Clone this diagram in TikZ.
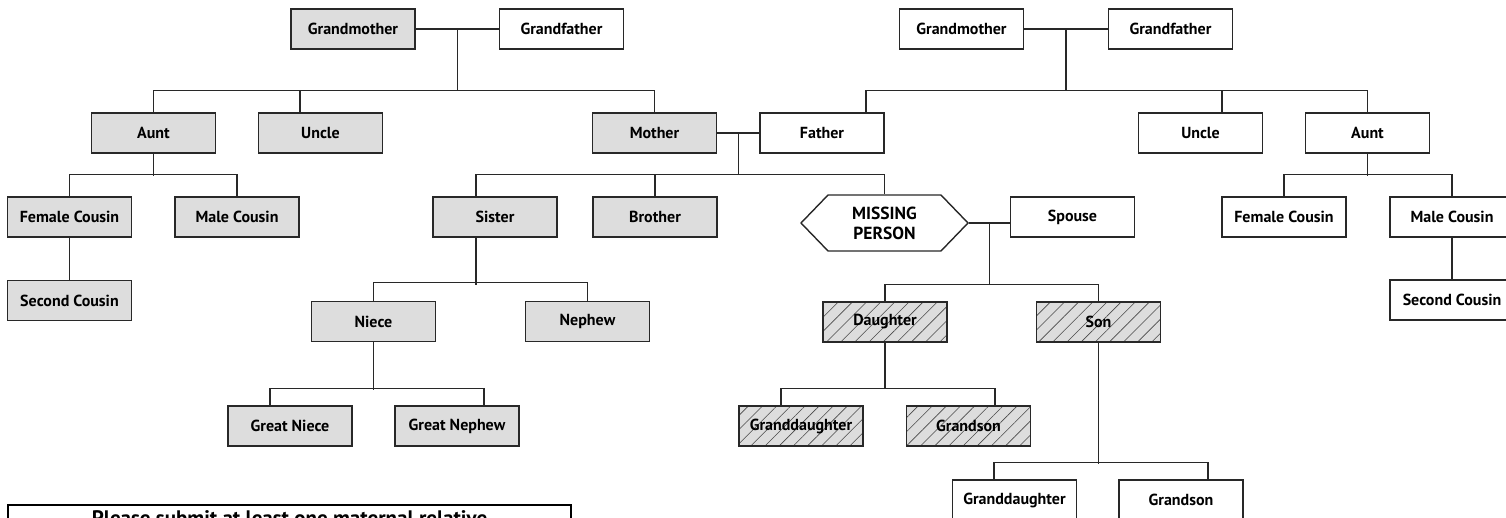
\documentclass[tikz,border=0pt]{standalone}
\usepackage{fontspec}
\setmainfont{PT Sans}
\usetikzlibrary{calc,shapes.symbols,patterns.meta}

\definecolor{boxgray}{RGB}{221,221,221}
\definecolor{linegray}{RGB}{40,40,40}

\tikzset{
  person/.style={draw=linegray, line width=1.4pt, minimum width=124pt, minimum height=40pt,
    inner sep=0pt, font=\fontsize{16}{18}\selectfont\bfseries},
  maternal/.style={person, fill=boxgray},
  offspring/.style={person, preaction={fill=boxgray},
    pattern={Lines[angle=45,distance=10pt,line width=0.6pt]}, pattern color=linegray!85},
  missing/.style={person, shape=signal, signal to=west and east, signal pointer angle=92,
    minimum width=167pt, minimum height=56pt, align=center,
    font=\fontsize{17.5}{20}\selectfont\bfseries},
  note/.style={draw=black, line width=2.2pt, minimum width=563pt, minimum height=26pt,
    anchor=north, font=\fontsize{21}{23}\selectfont\bfseries},
  link/.style={draw=linegray, line width=1.4pt}
}

\begin{document}
\begin{tikzpicture}[x=1pt, y=-1pt]
\useasboundingbox (0,0) rectangle (1506,518);
\clip (0,0) rectangle (1506,518);

% Grandparents
\node[maternal] (gmM) at (353,29) {Grandmother};
\node[person] (gfM) at (561.5,29) {Grandfather};
\node[person] (gmP) at (961.5,29) {Grandmother};
\node[person] (gfP) at (1170.5,29) {Grandfather};

% Parents, aunts and uncles
\node[maternal] (auntM) at (153.5,133) {Aunt};
\node[maternal] (uncleM) at (320.5,133) {Uncle};
\node[maternal] (mother) at (654.5,133) {Mother};
\node[person] (father) at (822,133) {Father};
\node[person] (uncleP) at (1200.5,133) {Uncle};
\node[person] (auntP) at (1367.5,133) {Aunt};

% Own generation
\node[maternal] (fcousM) at (69.5,217) {Female Cousin};
\node[maternal] (mcousM) at (237,217) {Male Cousin};
\node[maternal] (sister) at (495,217) {Sister};
\node[maternal] (brother) at (655,217) {Brother};
\node[missing] (mp) at (884.5,223) {MISSING\\PERSON};
\node[person] (spouse) at (1072.5,217) {Spouse};
\node[person] (fcousP) at (1284,217) {Female Cousin};
\node[person] (mcousP) at (1452,217) {Male Cousin};

% Next generation
\node[maternal] (scousM) at (69.5,300.5) {Second Cousin};
\node[person] (scousP) at (1452,300) {Second Cousin};
\node[maternal] (niece) at (373.5,321.5) {Niece};
\node[maternal] (nephew) at (587.5,321.5) {Nephew};
\node[offspring] (daughter) at (885,322) {Daughter};
\node[offspring] (son) at (1098.5,322) {Son};

% Grandchildren
\node[maternal] (gniece) at (290,426) {Great Niece};
\node[maternal] (gnephew) at (457,426) {Great Nephew};
\node[offspring] (gdaughterA) at (801,426) {Granddaughter};
\node[offspring] (gsonA) at (968.5,426) {Grandson};
\node[person] (gdaughterB) at (1014.5,500) {Granddaughter};
\node[person] (gsonB) at (1181,500) {Grandson};

% Note
\node[note] (remark) at (289.5,504) {Please submit at least one maternal relative};

% Maternal grandparents
\coordinate (mGP) at ($(gmM.east)!.5!(gfM.west)$);
\draw[link] (gmM) -- (gfM);
\draw[link] (mGP) -- ++(0,62);
\draw[link] (auntM.north) -- ++(0,-22) -| (mother.north);
\draw[link] ([xshift=-20.5pt]uncleM.north) -- ++(0,-22);

% Paternal grandparents
\coordinate (pGP) at ($(gmP.east)!.5!(gfP.west)$);
\draw[link] (gmP) -- (gfP);
\draw[link] (pGP) -- ++(0,62);
\draw[link] ([xshift=44pt]father.north) -- ++(0,-22) -| (auntP.north);
\draw[link] ([xshift=21.5pt]uncleP.north) -- ++(0,-22);

% Parents
\coordinate (par) at ($(mother.east)!.5!(father.west)$);
\draw[link] (mother) -- (father);
\draw[link] (par) -- ++(0,42);
\draw[link] ([xshift=-19pt]sister.north) -- ++(0,-22) -| (mp.north);
\draw[link] (brother.north) -- ++(0,-22);

% Cousins
\draw[link] (auntM.south) -- ++(0,22);
\draw[link] (fcousM.north) -- ++(0,-22) -| (mcousM.north);
\draw[link] (fcousM) -- (scousM);
\draw[link] (auntP.south) -- ++(0,22);
\draw[link] (fcousP.north) -- ++(0,-22) -| (mcousP.north);
\draw[link] (mcousP) -- (scousP);

% Sister's line
\draw[link] ([xshift=-19pt]sister.south) -- ++(0,47);
\draw[link] (niece.north) -- ++(0,-18) -| (nephew.north);
\draw[link] (niece.south) -- ++(0,48);
\draw[link] ([xshift=-20pt]gniece.north) -- ++(0,-17) -| ([xshift=27pt]gnephew.north);

% Missing person's line
\coordinate (mps) at ($(mp.east)!.5!(mp.east -| spouse.west)$);
\draw[link] (mp.east) -- (mp.east -| spouse.west);
\draw[link] (mps) -- ++(0,62);
\draw[link] (daughter.north) -- ++(0,-17) -| (son.north);
\draw[link] (daughter.south) -- ++(0,47);
\draw[link] ([xshift=-20pt]gdaughterA.north) -- ++(0,-17) -| ([xshift=26.5pt]gsonA.north);
\draw[link] (son.south) -- ++(0,121);
\draw[link] ([xshift=-20.5pt]gdaughterB.north) -- ++(0,-17) -| ([xshift=27pt]gsonB.north);
\end{tikzpicture}
\end{document}
